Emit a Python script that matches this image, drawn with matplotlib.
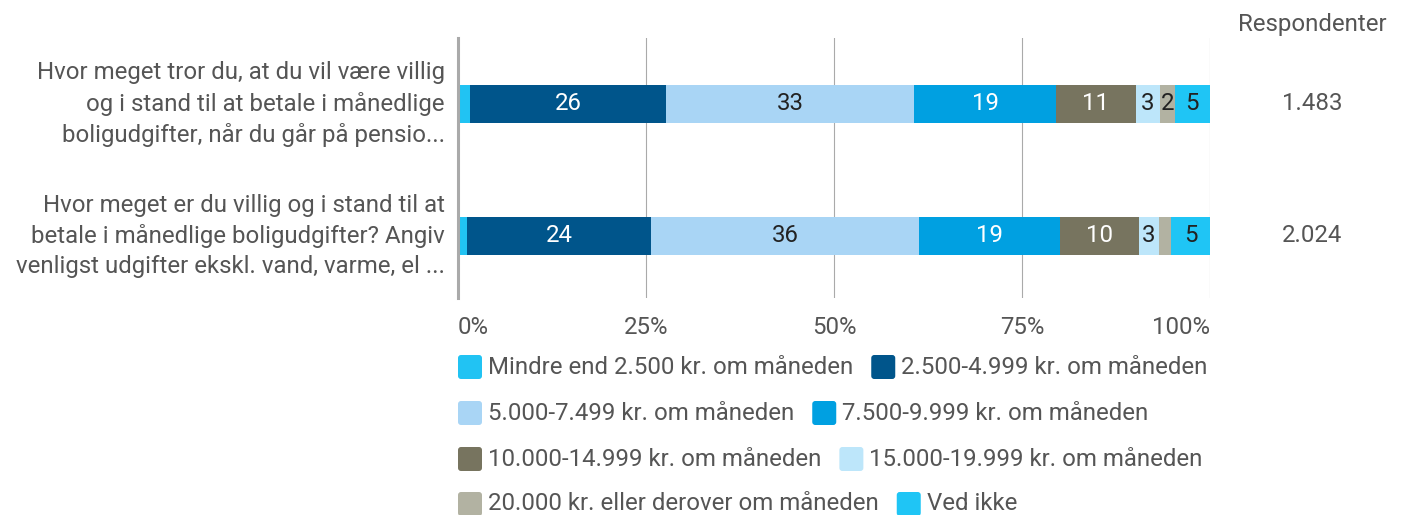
import matplotlib
matplotlib.use("Agg")
import matplotlib.pyplot as plt
from matplotlib.patches import FancyBboxPatch
from matplotlib.transforms import IdentityTransform

plt.rcParams['font.family'] = ['Roboto', 'DejaVu Sans']

questions = [
    "Hvor meget tror du, at du vil være villig\nog i stand til at betale i månedlige\nboligudgifter, når du går på pensio...",
    "Hvor meget er du villig og i stand til at\nbetale i månedlige boligudgifter? Angiv\nvenligst udgifter ekskl. vand, varme, el ...",
]
respondents = ["1.483", "2.024"]

categories = [
    "Mindre end 2.500 kr. om måneden",
    "2.500-4.999 kr. om måneden",
    "5.000-7.499 kr. om måneden",
    "7.500-9.999 kr. om måneden",
    "10.000-14.999 kr. om måneden",
    "15.000-19.999 kr. om måneden",
    "20.000 kr. eller derover om måneden",
    "Ved ikke",
]
colors = ["#21c3f3", "#00558b", "#a9d5f5", "#00a0e1", "#77745f", "#bde6fa", "#b2b2a2", "#1fc5f5"]
label_colors = ["#222222", "#ffffff", "#222222", "#ffffff", "#ffffff", "#222222", "#222222", "#222222"]

# percent per category, one list per question
values = [
    [1.6, 26.1, 33.0, 18.8, 10.6, 3.2, 2.0, 4.7],
    [1.2, 24.5, 35.6, 18.8, 10.4, 2.7, 1.6, 5.2],
]

W, H = 1404, 515
FS = 17.3
TXT = "#555555"

fig = plt.figure(figsize=(W / 100, H / 100), dpi=100)
ax = fig.add_axes([458 / W, 1 - 298 / H, (1210 - 458) / W, (298 - 38) / H])

for qi, row in enumerate(values):
    left = 0
    for ci, v in enumerate(row):
        ax.barh(qi, v, left=left, height=0.29, color=colors[ci], zorder=3)
        if v >= 1.9:
            ax.text(left + v / 2, qi, f"{round(v):d}", ha="center", va="center",
                    fontsize=FS, color=label_colors[ci], zorder=4)
        left += v

ax.set_xlim(0, 100)
ax.set_ylim(1.47, -0.5)
ax.set_xticks([0, 25, 50, 75, 100])
ax.set_xticklabels(["0%", "25%", "50%", "75%", "100%"], fontsize=FS, color=TXT)
ax.set_yticks([])
ax.tick_params(axis="x", length=0, pad=13)
ticklabels = ax.get_xticklabels()
ticklabels[0].set_horizontalalignment("left")
ticklabels[-1].set_horizontalalignment("right")
ax.grid(axis="x", color="#aaaaaa", linewidth=0.8, zorder=0)
for s in ["top", "right", "bottom"]:
    ax.spines[s].set_visible(False)
ax.spines["left"].set_color("#aaaaaa")
ax.spines["left"].set_linewidth(2.2)
ax.spines["left"].set_zorder(5)

# question labels and respondents
for qi, q in enumerate(questions):
    yc = [104, 236][qi]
    fig.text(445 / W, 1 - yc / H, q, ha="right", va="center", fontsize=FS,
             color=TXT, linespacing=1.4)
    fig.text(1312 / W, 1 - yc / H, respondents[qi], ha="center", va="center",
             fontsize=FS, color=TXT)
fig.text(1312 / W, 1 - 25 / H, "Respondenter", ha="center", va="center",
         fontsize=FS, color=TXT)

# flow legend
renderer = fig.canvas.get_renderer()
rows = [[0, 1], [2, 3], [4, 5], [6, 7]]
row_y = [367, 413, 459, 504]
for r, idx in enumerate(rows):
    x = 458
    y = row_y[r]
    for ci in idx:
        box = FancyBboxPatch((x, H - y - 12), 24, 24,
                             boxstyle="round,pad=0,rounding_size=3",
                             transform=IdentityTransform(), color=colors[ci],
                             linewidth=0)
        fig.patches.append(box)
        t = fig.text((x + 30) / W, 1 - y / H, categories[ci], ha="left",
                     va="center", fontsize=FS, color=TXT)
        bb = t.get_window_extent(renderer)
        x = bb.x1 + 18

fig.savefig("out.png", dpi=100)
